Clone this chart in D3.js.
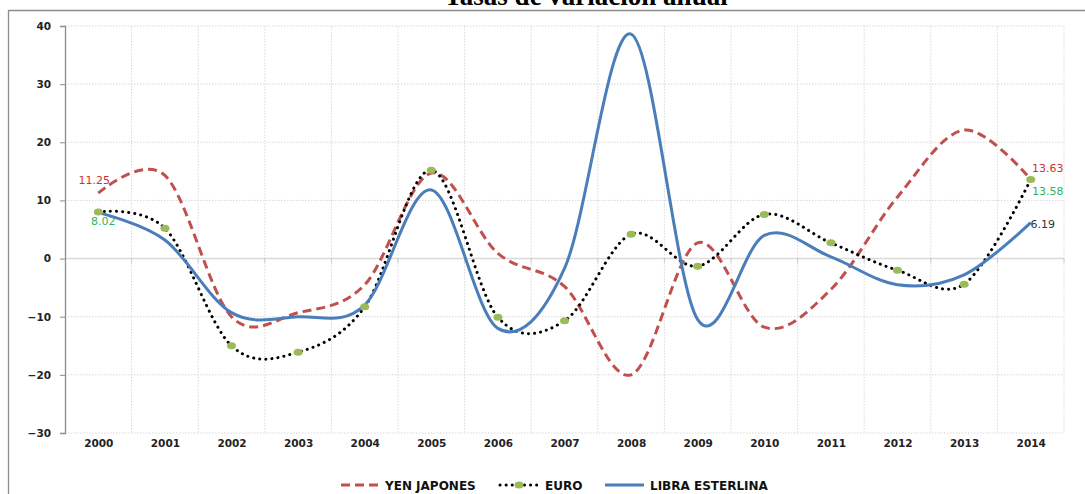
<!DOCTYPE html>
<html><head><meta charset="utf-8">
<script src="https://cdn.jsdelivr.net/npm/d3@7"></script>
<style>body{margin:0;background:#fff;}svg{display:block;}</style>
</head><body>
<svg id="c" width="1085" height="494"></svg>
<script>
const years = ["2000","2001","2002","2003","2004","2005","2006","2007","2008","2009","2010","2011","2012","2013","2014"];
const yen   = [11.25, 14.3, -10.0, -9.3, -4.5, 14.7, 0.9, -4.8, -20.0, 2.7, -11.8, -5.3, 10.6, 22.1, 13.63];
const euro  = [8.02, 5.2, -15.0, -16.1, -8.3, 15.2, -10.1, -10.7, 4.2, -1.3, 7.6, 2.7, -2.0, -4.4, 13.58];
const libra = [7.9, 3.2, -9.3, -10.0, -8.0, 11.8, -12.0, -1.7, 38.6, -10.5, 4.0, 0.3, -4.5, -2.8, 6.19];
const yTicks = [-30,-20,-10,0,10,20,30,40];
const title = "Tasas de variación anual";
const seriesNames = ["YEN JAPONES","EURO","LIBRA ESTERLINA"];

const svg = d3.select("#c");
const x = d3.scalePoint().domain(years).range([65,1064]).padding(0.5);
const band = (1064-65)/years.length;
const y = d3.scaleLinear().domain([-30,40]).range([433,26]);

// frame
svg.append("path").attr("d","M8.5,494 V10.5 H1085").attr("fill","none").attr("stroke","#8c8c8c").attr("stroke-width",1.3);
svg.append("text").attr("x",586).attr("y",5).attr("text-anchor","middle")
  .attr("font-family","Liberation Serif").attr("font-weight","bold").attr("font-size",27).text(title);

// grid
const g = svg.append("g");
yTicks.forEach(t=>{
  g.append("line").attr("x1",65).attr("x2",1064).attr("y1",y(t)).attr("y2",y(t))
   .attr("stroke","#d9d9d9").attr("stroke-width", t===0?1.5:1)
   .attr("stroke-dasharray", t===0?null:"1.5 1.5");
});
for(let i=1;i<=years.length;i++){
  const xx = 65+band*i;
  g.append("line").attr("x1",xx).attr("x2",xx).attr("y1",y(40)).attr("y2",y(-30))
   .attr("stroke","#d9d9d9").attr("stroke-dasharray","1.5 1.5");
  g.append("line").attr("x1",xx).attr("x2",xx).attr("y1",y(0)).attr("y2",y(0)+4).attr("stroke","#c8c8c8");
}
// y axis
const yAxis = d3.axisLeft(y).tickValues(yTicks).tickSize(5).tickPadding(9);
const ya = svg.append("g").attr("transform","translate(65,0)").call(yAxis);
ya.select(".domain").attr("stroke","#8c8c8c").attr("stroke-width",1.3);
ya.selectAll(".tick line").attr("stroke","#8c8c8c");
ya.selectAll("text").attr("font-family","DejaVu Sans").attr("font-weight","bold").attr("font-size",10.5).attr("fill","#222");
// x labels
const xAxis = d3.axisBottom(x).tickSize(0).tickPadding(0);
const xa = svg.append("g").attr("transform","translate(0,440)").call(xAxis);
xa.select(".domain").remove();
xa.selectAll("text").attr("font-family","DejaVu Sans").attr("font-weight","bold").attr("font-size",10.5).attr("fill","#222");

const line = d3.line().x((d,i)=>x(years[i])).y(d=>y(d)).curve(d3.curveCardinal.tension(0));

svg.append("path").datum(yen).attr("d",line).attr("fill","none").attr("stroke","#C0504D").attr("stroke-width",3).attr("stroke-dasharray","9 5");
svg.append("path").datum(euro).attr("d",line).attr("fill","none").attr("stroke","#000").attr("stroke-width",3).attr("stroke-dasharray","0.1 6").attr("stroke-linecap","round");
svg.append("path").datum(libra).attr("d",line).attr("fill","none").attr("stroke","#4A7EBB").attr("stroke-width",3);
svg.selectAll(".m").data(euro).enter().append("ellipse")
  .attr("cx",(d,i)=>x(years[i])).attr("cy",d=>y(d)).attr("rx",4.5).attr("ry",3.5).attr("fill","#9BBB59");

// data labels
const lab = (tx,xx,yy,col)=>svg.append("text").attr("x",xx).attr("y",yy).attr("text-anchor","middle")
  .attr("font-family","DejaVu Sans").attr("font-size",11).attr("fill",col).text(tx);
const first = x(years[0]), last = x(years[years.length-1]);
lab(yen[0].toFixed(2), first-4, y(yen[0])-9, "#D0302E");
lab(euro[0].toFixed(2), first+5, y(euro[0])+13, "#2DB55D");
lab(yen[14].toFixed(2), last+17, y(yen[14])-7, "#D0302E");
lab(euro[14].toFixed(2), last+17, y(euro[14])+15, "#2DB55D");
lab(libra[14].toFixed(2), last+12, y(libra[14])+5, "#333");

// legend
const lg = svg.append("g").attr("font-family","DejaVu Sans").attr("font-weight","bold").attr("font-size",12).attr("fill","#111");
lg.append("line").attr("x1",341).attr("x2",378).attr("y1",485).attr("y2",485).attr("stroke","#C0504D").attr("stroke-width",3).attr("stroke-dasharray","9 5");
lg.append("text").attr("x",385).attr("y",489.5).text(seriesNames[0]);
lg.append("line").attr("x1",500).attr("x2",537).attr("y1",485).attr("y2",485).attr("stroke","#000").attr("stroke-width",3).attr("stroke-dasharray","0.1 6").attr("stroke-linecap","round");
lg.append("ellipse").attr("cx",519).attr("cy",485).attr("rx",4.5).attr("ry",3.5).attr("fill","#9BBB59");
lg.append("text").attr("x",545).attr("y",489.5).text(seriesNames[1]);
lg.append("line").attr("x1",605).attr("x2",644).attr("y1",485).attr("y2",485).attr("stroke","#4A7EBB").attr("stroke-width",3);
lg.append("text").attr("x",650).attr("y",489.5).text(seriesNames[2]);
</script>
</body></html>
